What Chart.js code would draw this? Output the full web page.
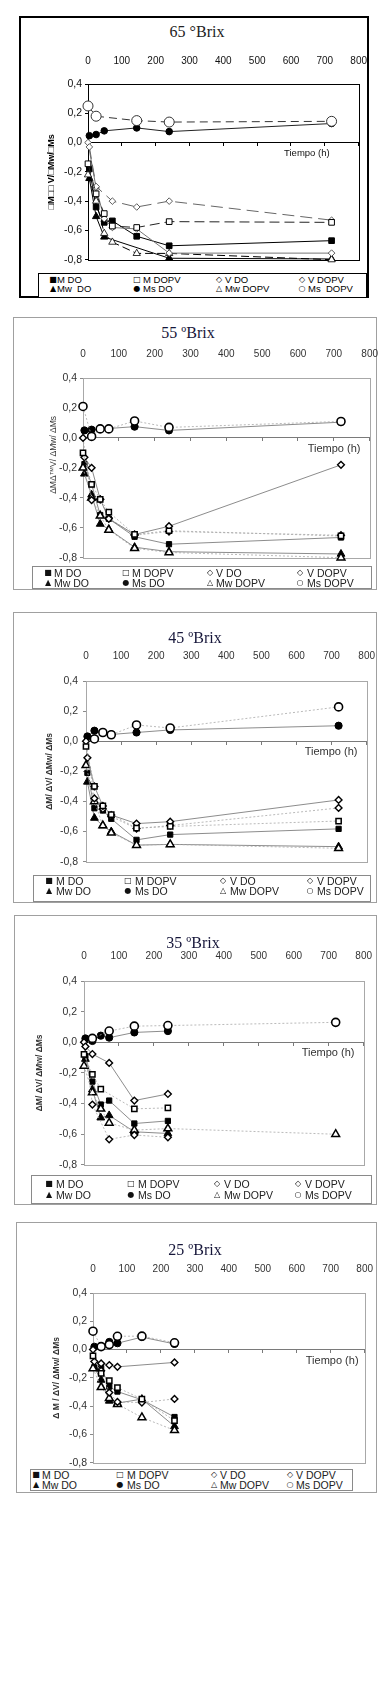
<!DOCTYPE html>
<html><head><meta charset="utf-8">
<script src="https://cdn.jsdelivr.net/npm/chart.js@4.4.0/dist/chart.umd.min.js"></script>
<style>
html,body{margin:0;padding:0;background:#fff;}
#page{position:relative;width:391px;height:1706px;overflow:hidden;font-family:"Liberation Sans",Arial,sans-serif;}
.box{position:absolute;box-sizing:border-box;}
.ttl{position:absolute;font-family:"Liberation Serif","Times New Roman",serif;font-size:16px;line-height:18px;text-align:center;white-space:nowrap;}
.leg{position:absolute;box-sizing:border-box;background:#fff;}
.lt{position:absolute;white-space:pre;line-height:10px;}
.mk{position:absolute;width:10px;text-align:center;font-family:"DejaVu Sans",sans-serif;font-size:8px;line-height:10px;}
canvas{position:absolute;}
</style></head><body><div id="page"></div>
<script>
// ---- shared axis values ----
const T = [0, 4, 24, 48, 72, 144, 240, 720];            // tiempo (h)
const X_TICKS = [0, 100, 200, 300, 400, 500, 600, 700, 800];
const Y_TICKS = [0.4, 0.2, 0.0, -0.2, -0.4, -0.6, -0.8];
const SERIES = ['M DO', 'M DOPV', 'V DO', 'V DOPV', 'Mw DO', 'Ms DO', 'Mw DOPV', 'Ms DOPV'];
const LEG65 = ['M DO', 'M DOPV', 'V DO', 'V DOPV', 'Mw  DO', 'Ms DO', 'Mw DOPV', 'Ms  DOPV'];
const MARKS = ['■', '□', '◇', '◇', '▲', '●', '△', '○'];

// ---- 65 ºBrix ----
const b65_M_DO    = [null, -0.18, -0.44, -0.545, -0.535, -0.64, -0.705, -0.67];
const b65_M_DOPV  = [-0.145, null, -0.35, -0.485, -0.57, -0.58, -0.54, -0.545];
const b65_V_DO    = [null, -0.03, -0.30, null, -0.40, -0.44, -0.40, -0.53];
const b65_V_DOPV  = [0.0, null, -0.31, -0.52, -0.58, -0.59, -0.755, -0.755];
const b65_Mw_DO   = [null, -0.245, -0.505, -0.645, null, null, -0.79, -0.795];
const b65_Ms_DO   = [null, 0.047, 0.055, 0.08, null, 0.10, 0.075, 0.13];
const b65_Mw_DOPV = [-0.22, null, -0.40, -0.62, -0.68, -0.757, -0.757, -0.80];
const b65_Ms_DOPV = [0.25, null, 0.18, null, null, 0.15, 0.14, 0.145];
// ---- 55 ºBrix ----
const b55_M_DO    = [null, -0.175, -0.31, -0.515, -0.54, -0.66, -0.71, -0.665];
const b55_M_DOPV  = [-0.10, null, -0.31, -0.41, -0.495, -0.645, -0.62, -0.655];
const b55_V_DO    = [null, -0.13, -0.20, -0.41, -0.54, -0.645, -0.59, -0.18];
const b55_V_DOPV  = [0.0, null, -0.415, -0.41, -0.535, -0.65, -0.625, -0.65];
const b55_Mw_DO   = [null, -0.24, -0.38, -0.575, -0.61, -0.73, -0.76, -0.775];
const b55_Ms_DO   = [null, 0.05, 0.055, null, null, 0.075, 0.05, 0.105];
const b55_Mw_DOPV = [-0.20, null, -0.40, -0.52, -0.615, -0.737, -0.765, -0.80];
const b55_Ms_DOPV = [0.21, null, 0.01, 0.06, 0.06, 0.113, 0.07, 0.11];
// ---- 45 ºBrix ----
const b45_M_DO    = [null, -0.21, -0.445, -0.46, -0.515, -0.655, -0.62, -0.582];
const b45_M_DOPV  = [-0.035, null, -0.30, -0.43, -0.487, -0.577, -0.566, -0.53];
const b45_V_DO    = [null, -0.11, -0.30, -0.43, -0.49, -0.547, -0.534, -0.39];
const b45_V_DOPV  = [0.0, null, -0.38, -0.45, -0.50, -0.58, -0.56, -0.443];
const b45_Mw_DO   = [null, -0.27, -0.51, -0.56, -0.60, -0.69, -0.685, -0.70];
const b45_Ms_DO   = [null, 0.032, 0.07, null, 0.045, 0.058, 0.075, 0.103];
const b45_Mw_DOPV = [-0.16, null, -0.40, -0.56, -0.608, -0.69, -0.685, -0.711];
const b45_Ms_DOPV = [null, null, 0.015, 0.058, 0.043, 0.108, 0.088, 0.228];
// ---- 35 ºBrix ----
const b35_M_DO    = [null, -0.09, -0.257, -0.407, -0.381, -0.531, -0.514, null];
const b35_M_DOPV  = [-0.08, null, -0.21, -0.306, null, -0.435, -0.429, null];
const b35_V_DO    = [null, -0.028, -0.077, null, -0.135, -0.381, -0.338, null];
const b35_V_DOPV  = [0.0, null, -0.407, null, -0.634, -0.606, -0.621, null];
const b35_Mw_DO   = [null, -0.11, -0.31, -0.493, -0.478, -0.585, -0.596, null];
const b35_Ms_DO   = [null, 0.025, 0.008, 0.043, 0.03, 0.064, 0.073, null];
const b35_Mw_DOPV = [-0.155, null, -0.328, -0.435, -0.527, -0.574, -0.564, -0.601];
const b35_Ms_DOPV = [null, null, 0.025, null, 0.073, 0.105, 0.109, 0.13];
// ---- 25 ºBrix ----
const b25_M_DO    = [null, -0.125, -0.13, -0.262, -0.297, -0.355, -0.477, null];
const b25_M_DOPV  = [-0.045, null, -0.168, -0.22, -0.269, -0.35, -0.503, null];
const b25_V_DO    = [null, -0.085, -0.098, -0.11, -0.122, null, -0.091, null];
const b25_V_DOPV  = [0.0, null, -0.15, -0.304, -0.37, -0.375, -0.349, null];
const b25_Mw_DO   = [null, -0.13, -0.215, -0.363, -0.379, -0.35, -0.543, null];
const b25_Ms_DO   = [null, 0.02, null, 0.054, 0.045, 0.088, 0.04, null];
const b25_Mw_DOPV = [-0.133, null, -0.267, -0.344, -0.386, -0.48, -0.571, null];
const b25_Ms_DOPV = [0.13, null, 0.021, 0.035, 0.094, 0.095, 0.048, null];

// ---- styles ----
const DARK = [
  {ps:'rect', r:4, bg:'#000', bc:'#000', bw:1, lc:'#000', lw:1, dash:[], order:1},
  {ps:'rect', r:4, bg:'#fff', bc:'#000', bw:1, lc:'#222', lw:1, dash:[10,5], order:0},
  {ps:'rectRot', r:3.3, bg:'#fff', bc:'#333', bw:0.8, lc:'#666', lw:1, dash:[12,6], order:0},
  {ps:'rectRot', r:3.3, bg:'#fff', bc:'#333', bw:0.8, lc:'#777', lw:1, dash:[], order:0},
  {ps:'triangle', r:4.2, bg:'#000', bc:'#000', bw:1, lc:'#000', lw:1, dash:[], order:1},
  {ps:'circle', r:3.3, bg:'#000', bc:'#000', bw:1, lc:'#222', lw:1, dash:[], order:1},
  {ps:'triangle', r:4.2, bg:'#fff', bc:'#000', bw:0.8, lc:'#000', lw:1, dash:[8,4], order:0},
  {ps:'circle', r:5, bg:'#fff', bc:'#333', bw:1, lc:'#333', lw:1, dash:[8,5], order:0}
];
const GRAY = [
  {ps:'rect', r:3.7, bg:'#000', bc:'#000', bw:1, lc:'#6e6e6e', lw:0.8, dash:[], order:1},
  {ps:'rect', r:3.7, bg:'#fff', bc:'#000', bw:1.5, lc:'#a8a8a8', lw:0.8, dash:[2,2], order:0},
  {ps:'rectRot', r:3.4, bg:'#fff', bc:'#000', bw:1.4, lc:'#6e6e6e', lw:0.8, dash:[], order:0},
  {ps:'rectRot', r:3.4, bg:'#fff', bc:'#000', bw:1.4, lc:'#a8a8a8', lw:0.8, dash:[2,2], order:0},
  {ps:'triangle', r:4.5, bg:'#000', bc:'#000', bw:1, lc:'#6e6e6e', lw:0.8, dash:[], order:1},
  {ps:'circle', r:3.6, bg:'#000', bc:'#000', bw:1, lc:'#6e6e6e', lw:0.8, dash:[], order:1},
  {ps:'triangle', r:4.5, bg:'#fff', bc:'#000', bw:1.5, lc:'#a8a8a8', lw:0.8, dash:[2,2], order:0},
  {ps:'circle', r:4, bg:'#fff', bc:'#000', bw:1.6, lc:'#a8a8a8', lw:0.8, dash:[2,2], order:0}
];

const PANELS = [
  {title:'65 °Brix', dark:true,
   data:[b65_M_DO,b65_M_DOPV,b65_V_DO,b65_V_DOPV,b65_Mw_DO,b65_Ms_DO,b65_Mw_DOPV,b65_Ms_DOPV],
   box:[19,16,369,298], boxBorder:'2px solid #000', titleXY:[197,32], titleColor:'#222',
   plot:[88,84,360,261], labelY:69, yTitle:'□M□□ V/□Mw/□Ms', yTitleX:52, yTitleSize:9, yTitleWeight:'bold', yPad:3,
   tSize:9.5, tGap:28,
   legend:{box:[38,273,367,298], border:'1.5px solid #000', rows:[280,289], marks:[53,137,219,302], texts:[57,143,225,308], size:9.5, labels:LEG65}},
  {title:'55 ºBrix', dark:false,
   data:[b55_M_DO,b55_M_DOPV,b55_V_DO,b55_V_DOPV,b55_Mw_DO,b55_Ms_DO,b55_Mw_DOPV,b55_Ms_DOPV],
   box:[13,317,377,590], boxBorder:'1px solid #a0a0a0', titleXY:[188,333], titleColor:'#16163a',
   plot:[83,378,372,559], labelY:362, yTitle:'           ΔMΔ™V/ ΔMw/ ΔMs', yTitleX:54, yTitleSize:8.5, yTitleWeight:'normal', yPad:3,
   tSize:11, tGap:10,
   legend:{box:[32,566,372,589], border:'1px solid #8a8a8a', rows:[573,583], marks:[48,126,210,300], texts:[54,132,216,307], size:10.5, labels:SERIES}},
  {title:'45 ºBrix', dark:false,
   data:[b45_M_DO,b45_M_DOPV,b45_V_DO,b45_V_DOPV,b45_Mw_DO,b45_Ms_DO,b45_Mw_DOPV,b45_Ms_DOPV],
   box:[13,612,377,903], boxBorder:'1px solid #a0a0a0', titleXY:[195,638], titleColor:'#16163a',
   plot:[86,681,370,865], labelY:664, yTitle:'ΔM/ ΔV/ ΔMw/ ΔMs', yTitleX:50, yTitleSize:8.5, yTitleWeight:'bold', yPad:5,
   tSize:11, tGap:8,
   legend:{box:[33,875,371,902], border:'1px solid #8a8a8a', rows:[881,891], marks:[49,128,223,310], texts:[56,135,230,317], size:10.5, labels:SERIES}},
  {title:'35 ºBrix', dark:false,
   data:[b35_M_DO,b35_M_DOPV,b35_V_DO,b35_V_DOPV,b35_Mw_DO,b35_Ms_DO,b35_Mw_DOPV,b35_Ms_DOPV],
   box:[14,915,377,1205], boxBorder:'1px solid #a0a0a0', titleXY:[193,943], titleColor:'#16163a',
   plot:[84,981,367,1167], labelY:964, yTitle:'ΔM/ ΔV/ ΔMw/ ΔMs', yTitleX:40, yTitleSize:8.5, yTitleWeight:'bold', yPad:4,
   tSize:11, tGap:10,
   legend:{box:[31,1175,372,1204], border:'1px solid #8a8a8a', rows:[1184,1195], marks:[49,131,217,298], texts:[56,138,224,305], size:10.5, labels:SERIES}},
  {title:'25 ºBrix', dark:false,
   data:[b25_M_DO,b25_M_DOPV,b25_V_DO,b25_V_DOPV,b25_Mw_DO,b25_Ms_DO,b25_Mw_DOPV,b25_Ms_DOPV],
   box:[16,1222,377,1493], boxBorder:'1px solid #a0a0a0', titleXY:[195,1250], titleColor:'#16163a',
   plot:[93,1293,367,1464], labelY:1277, yTitle:'Δ M / ΔV/ ΔMw/ ΔMs', yTitleX:57, yTitleSize:8.5, yTitleWeight:'bold', yPad:3,
   tSize:11, tGap:7,
   legend:{box:[30,1469,353,1491], border:'1px solid #8a8a8a', rows:[1475,1485], marks:[36,120,214,290], texts:[42,127,220,296], size:10.5, labels:SERIES}}
];

const FAM = "'Liberation Sans', 'DejaVu Sans', Arial, sans-serif";
const page = document.getElementById('page');
function el(tag, cls, pos) {
  const e = document.createElement(tag);
  if (cls) e.className = cls;
  for (const k in pos) e.style[k] = pos[k] + 'px';
  page.appendChild(e);
  return e;
}
function yfmt(v) {
  const s = Number(v).toFixed(1).replace('.', ',');
  return s === '-0,0' ? '0,0' : s;
}
const plotFrame = {
  id: 'plotFrame',
  beforeDatasetsDraw(chart, args, opts) {
    const {ctx, chartArea: a} = chart;
    ctx.save();
    ctx.strokeStyle = opts.color;
    ctx.lineWidth = 1;
    ctx.strokeRect(Math.round(a.left) + 0.5, Math.round(a.top) + 0.5, Math.round(a.right - a.left), Math.round(a.bottom - a.top));
    ctx.restore();
  }
};

function buildPanel(P) {
  const [bx0, by0, bx1, by1] = P.box;
  const ob = el('div', 'box', {left:bx0, top:by0, width:bx1-bx0, height:by1-by0});
  ob.style.border = P.boxBorder;
  const tt = el('div', 'ttl', {left:P.titleXY[0]-70, top:P.titleXY[1]-9, width:140});
  tt.textContent = P.title; tt.style.color = P.titleColor;

  const [px0, py0, px1, py1] = P.plot;
  const cx0 = bx0, cy0 = py0 - 34, cx1 = px1 + 16, cy1 = py1 + 8;
  const cv = el('canvas', '', {left:cx0, top:cy0});
  cv.width = cx1 - cx0; cv.height = cy1 - cy0;
  cv.style.width = (cx1 - cx0) + 'px'; cv.style.height = (cy1 - cy0) + 'px';

  const txt = P.dark ? '#111' : '#333';
  const frame = P.dark ? '#000' : '#a8a8a8';
  const zero = P.dark ? '#000' : '#7a7a7a';
  const tick = P.dark ? '#000' : '#8a8a8a';
  const styles = P.dark ? DARK : GRAY;

  const datasets = SERIES.map((name, k) => {
    const vals = P.data[k], s = styles[k];
    const pts = [];
    T.forEach((t, i) => { if (vals[i] !== null) pts.push({x: t, y: vals[i]}); });
    return {label: name, data: pts, xAxisID: 'x', yAxisID: 'y', order: s.order,
      borderColor: s.lc, borderWidth: s.lw, borderDash: s.dash,
      pointStyle: s.ps, pointRadius: s.r, pointBackgroundColor: s.bg,
      pointBorderColor: s.bc, pointBorderWidth: s.bw, fill: false, tension: 0,
      clip: false, spanGaps: true};
  });

  const tLH = P.tSize * 1.2;
  const spaces = ' '.repeat(Math.round(P.tGap / (0.278 * P.tSize)));
  const yLH = P.yTitleSize * 1.2;

  new Chart(cv, {
    type: 'line',
    data: {datasets},
    plugins: [plotFrame],
    options: {
      responsive: false, animation: false, devicePixelRatio: 1,
      layout: {padding: {left: 0, top: 0, right: cx1 - px1, bottom: cy1 - py1}},
      plugins: {legend: {display: false}, title: {display: false}, tooltip: {enabled: false}, plotFrame: {color: frame}},
      scales: {
        x: {type: 'linear', position: 'top', min: X_TICKS[0], max: X_TICKS[X_TICKS.length-1],
            afterBuildTicks: s => { s.ticks = X_TICKS.map(v => ({value: v})); },
            afterFit: s => { s.height = py0 - cy0; },
            ticks: {padding: (py0 - P.labelY) - 6, color: txt, font: {family: FAM, size: 10}, maxRotation: 0, autoSkip: false},
            grid: {display: false}, border: {display: false}},
        xz: {type: 'linear', position: {y: 0}, min: X_TICKS[0], max: X_TICKS[X_TICKS.length-1],
            afterBuildTicks: s => { s.ticks = X_TICKS.map(v => ({value: v})); },
            ticks: {display: false},
            grid: {drawOnChartArea: false, drawTicks: true, tickLength: 3, color: zero},
            border: {display: true, color: zero, width: 1},
            title: {display: true, text: 'Tiempo (h)' + spaces, align: 'end', color: txt,
                    font: {family: FAM, size: P.tSize}, padding: {top: Math.max(0, 11 - 3 - tLH/2), bottom: 0}}},
        y: {type: 'linear', position: 'left', min: Y_TICKS[Y_TICKS.length-1], max: Y_TICKS[0],
            afterBuildTicks: s => { s.ticks = Y_TICKS.map(v => ({value: v})); },
            afterFit: s => { s.width = px0 - cx0; },
            ticks: {callback: v => yfmt(v), padding: P.yPad, color: txt, font: {family: FAM, size: 10.5}},
            grid: {drawOnChartArea: false, drawTicks: true, tickLength: 3, color: tick},
            border: {display: false},
            title: {display: true, text: P.yTitle, color: P.dark ? '#000' : '#333',
                    font: {family: FAM, size: P.yTitleSize, weight: P.yTitleWeight},
                    padding: {top: (P.yTitleX - cx0) - yLH/2, bottom: 0}}}
      }
    }
  });

  const L = P.legend;
  const lb = el('div', 'leg', {left:L.box[0], top:L.box[1], width:L.box[2]-L.box[0], height:L.box[3]-L.box[1]});
  lb.style.border = L.border;
  L.labels.forEach((name, k) => {
    const col = k % 4, row = Math.floor(k / 4);
    const ry = L.rows[row];
    const m = el('span', 'mk', {left: L.marks[col] - 5, top: ry - 5});
    m.textContent = MARKS[k];
    m.style.color = P.dark ? '#000' : '#111';
    const t = el('span', 'lt', {left: L.texts[col], top: ry - 5});
    t.textContent = name;
    t.style.fontSize = L.size + 'px';
    t.style.color = P.dark ? '#000' : '#222';
  });
}
PANELS.forEach(buildPanel);
</script>
</body></html>
